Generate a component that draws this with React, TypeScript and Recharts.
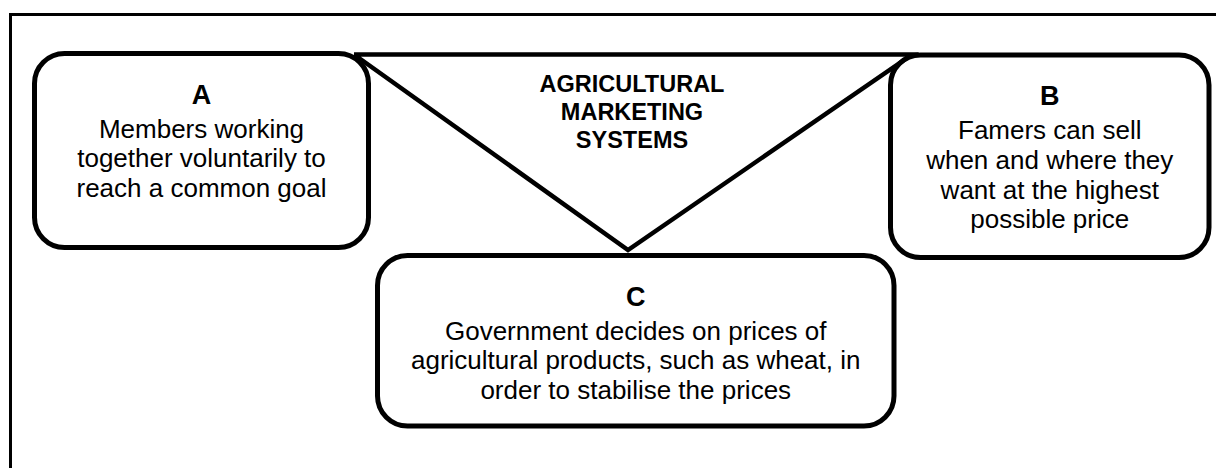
import React from 'react';
import { ScatterChart, Scatter, XAxis, YAxis, ReferenceArea } from 'recharts';

const W = 1216;
const H = 468;

// Diagram geometry in page coordinates (the axes map 1 unit = 1 px)
const boxIds = ['A', 'B', 'C'];
const boxX1 = [34.5, 890.5, 377.5];
const boxX2 = [368.5, 1209, 894];
const boxY1 = [53.5, 55, 255.5];
const boxY2 = [247.5, 257.5, 426];
const boxLinesA = ['Members working', 'together voluntarily to', 'reach a common goal'];
const boxLinesB = ['Famers can sell', 'when and where they', 'want at the highest', 'possible price'];
const boxLinesC = [
  'Government decides on prices of',
  'agricultural products, such as wheat, in',
  'order to stabilise the prices',
];
const boxLines = [boxLinesA, boxLinesB, boxLinesC];

const titleLines = ['AGRICULTURAL', 'MARKETING', 'SYSTEMS'];
const triangleX = [354, 628, 912, 354];
const triangleY = [54.5, 250, 54.5, 54.5];
const frameX = [10.5, 10.5, 1216];
const frameY = [468, 14.5, 14.5];

const trianglePts = triangleX.map((x, i) => ({ x, y: triangleY[i] }));
const framePts = frameX.map((x, i) => ({ x, y: frameY[i] }));

const FONT = '"Liberation Sans", Arial, Helvetica, sans-serif';

const NoDot = () => <g />;

function makeBoxShape(idx: number) {
  return (p: any) => {
    const { x, y, width, height } = p;
    const cx = x + width / 2;
    const letterY = y + 50;
    return (
      <g>
        <rect
          x={x}
          y={y}
          width={width}
          height={height}
          rx={30}
          ry={30}
          fill="#fff"
          stroke="#000"
          strokeWidth={5}
        />
        <text
          x={cx}
          y={letterY}
          textAnchor="middle"
          fontFamily={FONT}
          fontWeight="bold"
          fontSize={27}
          fill="#000"
        >
          {boxIds[idx]}
        </text>
        {boxLines[idx].map((line, i) => (
          <text
            key={i}
            x={cx}
            y={letterY + 34 + i * 29.8}
            textAnchor="middle"
            fontFamily={FONT}
            fontSize={26}
            fill="#000"
          >
            {line}
          </text>
        ))}
      </g>
    );
  };
}

const titleShape = (p: any) => {
  const { x, y, width } = p;
  const cx = x + width / 2 - 1;
  return (
    <g>
      {titleLines.map((line, i) => (
        <text
          key={i}
          x={cx}
          y={y + 37.2 + i * 28.3}
          textAnchor="middle"
          fontFamily={FONT}
          fontWeight="bold"
          fontSize={23.5}
          fill="#000"
        >
          {line}
        </text>
      ))}
    </g>
  );
};

export default function App() {
  return (
    <div style={{ position: 'absolute', left: 0, top: 0, width: W, height: H, background: '#fff' }}>
      <ScatterChart width={W} height={H} margin={{ top: 0, right: 0, bottom: 0, left: 0 }}>
        <XAxis type="number" dataKey="x" domain={[0, W]} hide />
        <YAxis type="number" dataKey="y" domain={[0, H]} reversed hide />
        <Scatter
          data={framePts}
          line={{ stroke: '#000', strokeWidth: 3 }}
          shape={NoDot}
          isAnimationActive={false}
        />
        {boxIds.map((id, i) => (
          <ReferenceArea
            key={id}
            x1={boxX1[i]}
            x2={boxX2[i]}
            y1={boxY1[i]}
            y2={boxY2[i]}
            shape={makeBoxShape(i)}
          />
        ))}
        <ReferenceArea
          x1={triangleX[0]}
          x2={triangleX[2]}
          y1={triangleY[0]}
          y2={triangleY[1]}
          shape={titleShape}
        />
        <Scatter
          data={trianglePts}
          line={{ stroke: '#000', strokeWidth: 4.5, strokeLinejoin: 'miter', fill: 'none' }}
          shape={NoDot}
          isAnimationActive={false}
        />
      </ScatterChart>
    </div>
  );
}
